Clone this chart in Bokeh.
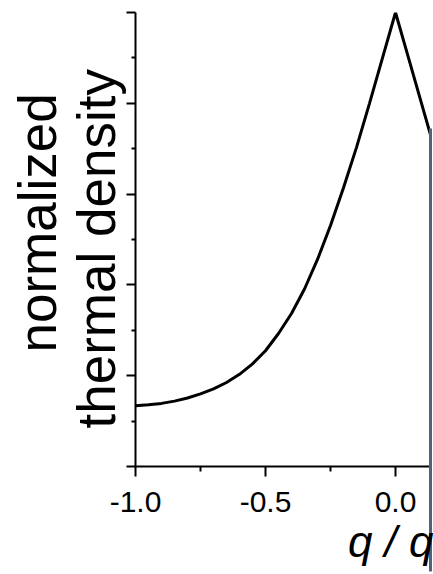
from bokeh.plotting import figure
from bokeh.models import Range1d, FixedTicker, LinearAxis, Title
from bokeh.embed import file_html
from bokeh.resources import INLINE

# data
q_vals = [-1.0, -0.95, -0.9, -0.85, -0.8, -0.75, -0.7, -0.65, -0.6, -0.55, -0.5,
          -0.45, -0.4, -0.35, -0.3, -0.25, -0.2, -0.15, -0.1, -0.05, 0.0,
          0.05, 0.1, 0.15]
density = [0.134, 0.136, 0.139, 0.144, 0.151, 0.160, 0.171, 0.185, 0.203, 0.226, 0.255,
           0.293, 0.337, 0.391, 0.456, 0.531, 0.614, 0.703, 0.800, 0.900, 1.0,
           0.90, 0.80, 0.70]
x_ticks = [-1.0, -0.5, 0.0]
x_minor = [-0.75, -0.25]
x_tick_labels = {-1.0: "-1.0", -0.5: "-0.5", 0.0: "0.0"}
y_ticks = [0.0, 0.2, 0.4, 0.6, 0.8, 1.0]
y_minor = [0.1, 0.3, 0.5, 0.7, 0.9]
y_label_lines = ["normalized", "thermal density"]
x_label = "q / q"

FONT = "Liberation Sans"
X_END = 0.1346
BAR_COLOR = "#556275"

p = figure(width=433, height=574, output_backend="svg", toolbar_location=None,
           x_range=Range1d(-1.0, X_END), y_range=Range1d(0.0, 1.0),
           min_border_left=135, min_border_right=3, min_border_top=12,
           min_border_bottom=108)
p.outline_line_color = None
p.grid.visible = False
p.background_fill_color = "white"
p.border_fill_color = "white"

p.line(q_vals, density, line_color="black", line_width=3)


def bare_axis(ax):
    ax.axis_line_color = None
    ax.major_tick_line_color = None
    ax.major_tick_in = 0
    ax.major_tick_out = 0
    ax.minor_tick_in = 0
    ax.minor_tick_out = 0
    ax.major_label_standoff = 0
    ax.major_label_text_color = None
    ax.major_label_text_font_size = "1px"


# x axis
xa = p.xaxis[0]
xa.ticker = FixedTicker(ticks=x_ticks, minor_ticks=x_minor)
xa.major_label_overrides = x_tick_labels
xa.major_label_text_font = FONT
xa.major_label_text_font_size = "30px"
xa.major_label_text_color = "black"
xa.major_label_standoff = 15
xa.axis_line_width = 2
xa.axis_line_color = "black"
xa.major_tick_line_width = 2
xa.minor_tick_line_width = 2
xa.major_tick_in = 0
xa.major_tick_out = 10
xa.minor_tick_in = 0
xa.minor_tick_out = 5

# y axis: ticks only, numbers not shown
ya = p.yaxis[0]
ya.ticker = FixedTicker(ticks=y_ticks, minor_ticks=y_minor)
ya.major_label_text_color = None
ya.major_label_text_font_size = "1px"
ya.major_label_standoff = 0
ya.axis_line_width = 2
ya.axis_line_color = "black"
ya.major_tick_line_width = 2
ya.minor_tick_line_width = 2
ya.major_tick_in = 0
ya.major_tick_out = 9
ya.minor_tick_in = 0
ya.minor_tick_out = 4

# y axis titles (two lines)
p.add_layout(Title(text=y_label_lines[1], align="left", offset=38, standoff=2,
                   text_font=FONT, text_font_size="53px", text_font_style="normal",
                   text_color="black"), "left")
p.add_layout(Title(text=y_label_lines[0], align="left", offset=114, standoff=-7,
                   text_font=FONT, text_font_size="53px", text_font_style="normal",
                   text_color="black"), "left")

# x axis title
p.add_layout(Title(text=x_label, align="right", offset=-3, standoff=5,
                   vertical_align="top",
                   text_font=FONT, text_font_size="44px", text_font_style="italic",
                   text_color="black"), "below")

# grey vertical bar at the right edge: upper part inside the frame
bar = LinearAxis(ticker=FixedTicker(ticks=[], minor_ticks=[]), bounds=(0.0, 0.7445))
bare_axis(bar)
bar.axis_line_color = BAR_COLOR
bar.axis_line_width = 3
p.add_layout(bar, "right")

# lower part of the bar, below the x axis (long inward tick of an outer axis)
bar_low = LinearAxis(ticker=FixedTicker(ticks=[], minor_ticks=[X_END - 0.0005]))
bare_axis(bar_low)
bar_low.minor_tick_line_color = BAR_COLOR
bar_low.minor_tick_line_width = 3
bar_low.minor_tick_in = 140
bar_low.minor_tick_out = 1
p.add_layout(bar_low, "below")

open("out.html", "w").write(file_html(p, INLINE))
